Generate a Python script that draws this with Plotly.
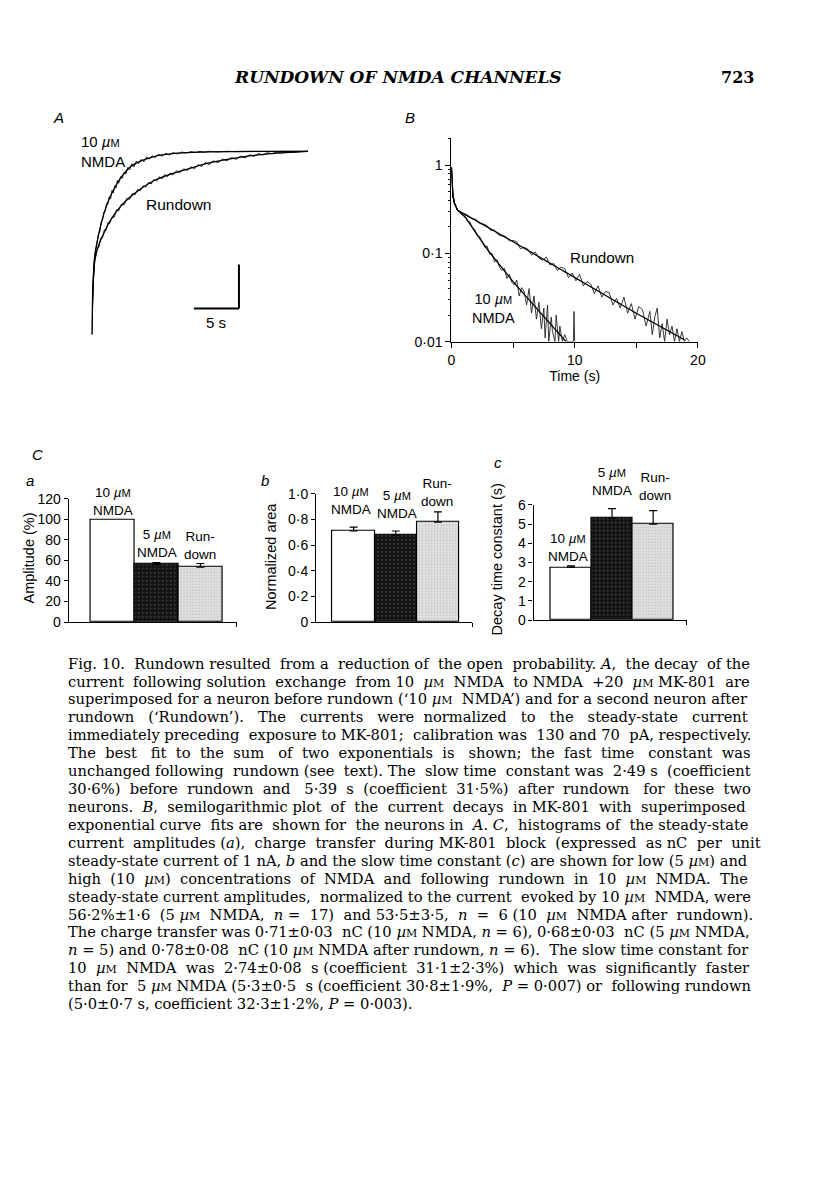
import re
import plotly.graph_objects as go

# page geometry (reference pixel coordinates are mapped onto the figure, which sits inside the 8px body margin)
OFF = 8
FW, FH = 798, 1182
SX, CX = 0.983, 4.6    # empirical correction of the rendered page (x)
SY, CY = 0.985, 9.0    # empirical correction of the rendered page (y)
SANS = "Liberation Sans, Arial, sans-serif"
SERIF = "DejaVu Serif, serif"

# ---------------- Panel A data (normalized current, 0 = steady state, 1 = start) -------------
a_fit_t = [0, 0.056, 0.11, 0.22, 0.33, 0.56, 0.89, 1.33, 1.78, 2.33, 3.11, 4.22, 5.33, 7.0, 9.22, 13.1, 17.6, 24]
a_nmda_fit = [1.0, 0.863, 0.754, 0.645, 0.574, 0.508, 0.426, 0.344, 0.279, 0.219, 0.153, 0.087, 0.055, 0.027, 0.011, 0.003, 0.0, 0.0]

a_run_fit_t = [0, 0.056, 0.11, 0.22, 0.33, 0.56, 0.89, 1.44, 2.0, 3.11, 4.22, 5.33, 7.0, 9.0, 10.9, 12.8, 16.4, 20.1, 24]
a_run_fit = [1.0, 0.863, 0.765, 0.672, 0.601, 0.546, 0.497, 0.437, 0.383, 0.306, 0.251, 0.208, 0.158, 0.120, 0.093, 0.066, 0.033, 0.011, 0.0]

a_nmda_t = [0, 0.06, 0.12, 0.22, 0.33, 0.45, 0.6, 0.75, 0.9, 1.05, 1.2, 1.35, 1.5, 1.65, 1.8, 1.95, 2.1, 2.25,
            2.4, 2.55, 2.7, 2.85, 3.0, 3.2, 3.4, 3.6, 3.8, 4.0, 4.2, 4.45, 4.7, 4.95, 5.2, 5.5, 5.8, 6.1,
            6.4, 6.7, 7.0, 7.4, 7.8, 8.2, 8.6, 9.0, 9.5, 10, 10.5, 11, 11.5, 12, 12.5, 13, 14, 15, 16, 18, 20, 22, 24]
a_nmda_trace = [1.0, 0.86, 0.745, 0.65, 0.565, 0.53, 0.50, 0.452, 0.44, 0.385, 0.378, 0.33, 0.328, 0.285, 0.288, 0.248,
                0.258, 0.212, 0.228, 0.188, 0.2, 0.158, 0.174, 0.138, 0.147, 0.113, 0.124, 0.088, 0.102, 0.068, 0.085,
                0.053, 0.067, 0.044, 0.057, 0.031, 0.043, 0.024, 0.034, 0.016, 0.027, 0.011, 0.02, 0.007, 0.014,
                0.004, 0.009, 0.002, 0.006, 0.0, 0.004, 0.0, 0.003, 0.0, 0.002, 0.0, 0.001, 0.0, 0.0]

a_run_t = [0, 0.06, 0.12, 0.22, 0.33, 0.45, 0.6, 0.8, 1.0, 1.2, 1.4, 1.6, 1.8, 2.0, 2.25, 2.5, 2.75, 3.0, 3.3, 3.6,
           3.9, 4.2, 4.5, 4.8, 5.1, 5.4, 5.7, 6.0, 6.3, 6.6, 6.9, 7.2, 7.5, 7.8, 8.1, 8.4, 8.7, 9.0, 9.4, 9.8,
           10.2, 10.6, 11.0, 11.4, 11.8, 12.2, 12.6, 13.0, 13.5, 14, 14.5, 15, 15.5, 16, 16.5, 17, 17.5, 18,
           18.5, 19, 19.5, 20, 20.5, 21, 21.5, 22, 23, 24]
a_run_trace = [1.0, 0.86, 0.76, 0.675, 0.60, 0.565, 0.535, 0.52, 0.473, 0.472, 0.428, 0.432, 0.388, 0.394, 0.358, 0.36,
               0.318, 0.324, 0.288, 0.292, 0.256, 0.262, 0.23, 0.238, 0.208, 0.215, 0.188, 0.196, 0.169, 0.178, 0.153,
               0.162, 0.139, 0.15, 0.127, 0.139, 0.118, 0.129, 0.106, 0.116, 0.095, 0.105, 0.084, 0.095, 0.073,
               0.083, 0.061, 0.072, 0.052, 0.062, 0.042, 0.052, 0.034, 0.044, 0.026, 0.036, 0.019, 0.027, 0.012,
               0.02, 0.007, 0.014, 0.004, 0.01, 0.002, 0.006, 0.001, 0.0]

# scale bar (5 s)
scale_t0, scale_len_s = 11.33, 5.0
scale_y_low, scale_y_high = 0.858, 0.617

# ---------------- Panel B data (semilog) -------------
b_nmda_fit_t = [0, 0.05, 0.12, 0.25, 0.5, 0.8, 1.2, 2.0, 3.0, 5.0, 7.0, 9.3]
b_nmda_fit = [0.95, 0.6, 0.45, 0.37, 0.31, 0.285, 0.25, 0.17, 0.107, 0.048, 0.023, 0.01]
b_run_fit_t = [0, 0.05, 0.12, 0.25, 0.5, 0.8, 1.8, 5.0, 10.0, 15.0, 18.9]
b_run_fit = [0.95, 0.6, 0.45, 0.37, 0.31, 0.29, 0.245, 0.136, 0.053, 0.021, 0.0105]

b_nmda_t = [0, 0.05, 0.12, 0.25, 0.5, 0.7, 0.9, 1.1, 1.3, 1.5, 1.7, 1.9, 2.1, 2.3, 2.5, 2.7, 2.9, 3.1, 3.3, 3.5,
            3.7, 3.9, 4.1, 4.3, 4.5, 4.7, 4.9, 5.1, 5.3, 5.5, 5.7, 5.9, 6.1, 6.3, 6.5, 6.7, 6.9, 7.1, 7.3,
            7.5, 7.6, 7.8, 7.9, 8.1, 8.2, 8.4, 8.5, 8.7, 8.8, 9.0, 9.2, 9.4, 9.9, 9.95, 10.0]
b_nmda_trace = [0.95, 0.62, 0.46, 0.37, 0.31, 0.292, 0.272, 0.266, 0.232, 0.228, 0.196, 0.186, 0.158, 0.155, 0.138,
                0.118, 0.121, 0.098, 0.1, 0.08, 0.085, 0.07, 0.064, 0.068, 0.052, 0.058, 0.047, 0.044, 0.05,
                0.033, 0.041, 0.037, 0.026, 0.04, 0.021, 0.033, 0.018, 0.028, 0.014, 0.024, 0.011, 0.026, 0.01,
                0.019, 0.013, 0.01, 0.02, 0.01, 0.015, 0.01, 0.012, 0.01, 0.01, 0.022, 0.01]

b_run_t = [0, 0.05, 0.12, 0.25, 0.5, 0.8, 1.1, 1.4, 1.7, 2.0, 2.3, 2.6, 2.9, 3.2, 3.5, 3.8, 4.1, 4.4, 4.7, 5.0,
           5.3, 5.6, 5.9, 6.2, 6.5, 6.8, 7.1, 7.4, 7.7, 8.0, 8.3, 8.6, 8.9, 9.2, 9.5, 9.8, 10.1, 10.4, 10.7,
           11.0, 11.3, 11.6, 11.9, 12.2, 12.5, 12.8, 13.1, 13.4, 13.7, 14.0, 14.3, 14.6, 14.9, 15.2, 15.5,
           15.8, 16.1, 16.3, 16.5, 16.7, 16.9, 17.1, 17.3, 17.5, 17.7, 17.9, 18.1, 18.3, 18.5, 18.7, 18.9, 19.1, 19.3]
b_run_trace = [0.95, 0.63, 0.47, 0.38, 0.31, 0.296, 0.281, 0.268, 0.246, 0.243, 0.218, 0.216, 0.207, 0.182, 0.184,
               0.163, 0.158, 0.157, 0.139, 0.141, 0.135, 0.113, 0.118, 0.112, 0.096, 0.104, 0.089, 0.084, 0.091,
               0.074, 0.077, 0.064, 0.07, 0.067, 0.053, 0.06, 0.049, 0.058, 0.043, 0.048, 0.045, 0.035, 0.043,
               0.032, 0.037, 0.036, 0.026, 0.031, 0.024, 0.032, 0.021, 0.027, 0.018, 0.025, 0.023, 0.015, 0.022,
               0.012, 0.019, 0.024, 0.011, 0.016, 0.01, 0.018, 0.012, 0.015, 0.01, 0.014, 0.01, 0.013, 0.01, 0.011, 0.01]

b_xticks = [0, 5, 10, 15, 20]
b_xticklabels = ["0", "", "10", "", "20"]
b_yticks = [0.01, 0.1, 1]
b_yticklabels = ["0·01", "0·1", "1"]

# ---------------- Panel C data -------------
groups = ["10 µM NMDA", "5 µM NMDA", "Rundown"]
amp_mean = [100, 56.2, 53.5]
amp_err = [0, 1.6, 3.5]
area_mean = [0.71, 0.68, 0.78]
area_err = [0.03, 0.03, 0.08]
tau_mean = [2.74, 5.3, 5.0]
tau_err = [0.08, 0.5, 0.7]

amp_ticks = [0, 20, 40, 60, 80, 100, 120]
area_ticks = [0, 0.2, 0.4, 0.6, 0.8, 1.0]
area_ticklabels = ["0", "0·2", "0·4", "0·6", "0·8", "1·0"]
tau_ticks = [0, 1, 2, 3, 4, 5, 6]

# ---------------- helpers -------------
def dx(px):
    return ((px - CX) / SX - OFF) / FW

def dy(py):
    return 1 - ((py - CY) / SY - OFF) / FH

uMs = "<i>µ</i><span style='font-size:11px'>M</span>"

fig = go.Figure()

LW_FIT = 1.3
LW_TR = 0.9

# Panel A
fig.add_trace(go.Scatter(x=a_nmda_t, y=a_nmda_trace, mode="lines", line=dict(color="#111", width=LW_TR), xaxis="x", yaxis="y", showlegend=False))
fig.add_trace(go.Scatter(x=a_run_t, y=a_run_trace, mode="lines", line=dict(color="#111", width=LW_TR), xaxis="x", yaxis="y", showlegend=False))
fig.add_trace(go.Scatter(x=a_fit_t, y=a_nmda_fit, mode="lines", line=dict(color="black", width=LW_FIT, shape="spline", smoothing=0.6), xaxis="x", yaxis="y", showlegend=False))
fig.add_trace(go.Scatter(x=a_run_fit_t, y=a_run_fit, mode="lines", line=dict(color="black", width=LW_FIT, shape="spline", smoothing=0.6), xaxis="x", yaxis="y", showlegend=False))

# Panel B
fig.add_trace(go.Scatter(x=b_nmda_t, y=b_nmda_trace, mode="lines", line=dict(color="#222", width=LW_TR), xaxis="x2", yaxis="y2", showlegend=False))
fig.add_trace(go.Scatter(x=b_run_t, y=b_run_trace, mode="lines", line=dict(color="#222", width=LW_TR), xaxis="x2", yaxis="y2", showlegend=False))
fig.add_trace(go.Scatter(x=b_nmda_fit_t, y=b_nmda_fit, mode="lines", line=dict(color="black", width=LW_FIT), xaxis="x2", yaxis="y2", showlegend=False))
fig.add_trace(go.Scatter(x=b_run_fit_t, y=b_run_fit, mode="lines", line=dict(color="black", width=LW_FIT), xaxis="x2", yaxis="y2", showlegend=False))

# Panel C bars
fills = [
    dict(color="white", line=dict(color="black", width=1.2)),
    dict(color="#141414", line=dict(color="black", width=1.2),
         pattern=dict(shape=".", bgcolor="#121212", fgcolor="#5a5a5a", size=4, solidity=0.25)),
    dict(color="#dcdcdc", line=dict(color="black", width=1.2),
         pattern=dict(shape=".", bgcolor="#e4e4e4", fgcolor="#9c9c9c", size=3, solidity=0.3)),
]

def add_bars(means, errs, xa, ya):
    for i, (m, e) in enumerate(zip(means, errs)):
        kw = {}
        if e > 0:
            kw["error_y"] = dict(type="data", array=[e], arrayminus=[0], symmetric=False,
                                 color="black", thickness=1.2, width=4)
        fig.add_trace(go.Bar(x=[i], y=[m], width=1.0, marker=fills[i], xaxis=xa, yaxis=ya,
                             showlegend=False, name=groups[i], **kw))

add_bars(amp_mean, amp_err, "x3", "y3")
add_bars(area_mean, area_err, "x4", "y4")
add_bars(tau_mean, tau_err, "x5", "y5")

tickfont = dict(family=SANS, size=14, color="black")

def bar_xaxis(x0, x1, lo, hi, ya):
    return dict(domain=[dx(x0), dx(x1)], range=[lo, hi], showline=True, linecolor="black", linewidth=1.2,
                tickvals=[hi], ticktext=[""], ticks="outside", ticklen=4, tickcolor="black", tickwidth=1.2,
                showgrid=False, zeroline=False, fixedrange=True, anchor=ya)

def bar_yaxis(y0, y1, rng, tv, tt, xa):
    return dict(domain=[dy(y0), dy(y1)], range=rng, showline=True, linecolor="black", linewidth=1.2,
                tickvals=tv, ticktext=tt, ticks="outside", ticklen=4, tickcolor="black", tickwidth=1.2,
                tickfont=tickfont, showgrid=False, zeroline=False, anchor=xa, fixedrange=True)

fig.update_layout(
    width=FW, height=FH, margin=dict(l=0, r=0, t=0, b=0),
    paper_bgcolor="white", plot_bgcolor="rgba(0,0,0,0)",
    bargap=0, barmode="overlay",
    xaxis=dict(domain=[dx(92), dx(308)], range=[0, 24], visible=False),
    yaxis=dict(domain=[dy(338), dy(148)], range=[1.0164, -0.0219], visible=False),
    xaxis2=dict(domain=[dx(451), dx(697)], range=[0, 20], anchor="y2", showline=True, linecolor="black",
                linewidth=1.2, tickvals=b_xticks, ticktext=b_xticklabels, ticks="outside", ticklen=5,
                tickcolor="black", tickwidth=1.2, tickfont=dict(family=SANS, size=14, color="black"),
                showgrid=False, zeroline=False,
                title=dict(text="Time (s)", font=dict(family=SANS, size=14, color="black"), standoff=4)),
    yaxis2=dict(domain=[dy(342), dy(139)], type="log", range=[-2, 0.307], anchor="x2", showline=True,
                linecolor="black", linewidth=1.2, tickvals=b_yticks, ticktext=b_yticklabels, ticks="outside",
                ticklen=5, tickcolor="black", tickwidth=1.2, tickfont=dict(family=SANS, size=14, color="black"),
                showgrid=False, zeroline=False,
                minor=dict(ticks="outside", ticklen=2, tickcolor="black", tickwidth=1, dtick="D1", showgrid=False)),
    xaxis3=bar_xaxis(69, 237, -0.99, 2.83, "y3"),
    yaxis3=bar_yaxis(622, 499, [0, 120], amp_ticks, [str(v) for v in amp_ticks], "x3"),
    xaxis4=bar_xaxis(316, 472, -0.89, 2.82, "y4"),
    yaxis4=bar_yaxis(622, 494, [0, 1.0], area_ticks, area_ticklabels, "x4"),
    xaxis5=bar_xaxis(533, 686, -0.91, 2.82, "y5"),
    yaxis5=bar_yaxis(620, 505, [0, 6], tau_ticks, [str(v) for v in tau_ticks], "x5"),
)

# scale bar in panel A
fig.add_shape(type="line", xref="x", yref="y", x0=scale_t0, x1=scale_t0 + scale_len_s, y0=scale_y_low, y1=scale_y_low,
              line=dict(color="black", width=2))
fig.add_shape(type="line", xref="x", yref="y", x0=scale_t0 + scale_len_s, x1=scale_t0 + scale_len_s,
              y0=scale_y_low, y1=scale_y_high, line=dict(color="black", width=2))

annots = []

def ann(text, px, py, size=14, family=SANS, xanchor="center", yanchor="middle", angle=0, align="center"):
    annots.append(dict(text=text, x=dx(px), y=dy(py), xref="paper", yref="paper", showarrow=False,
                       xanchor=xanchor, yanchor=yanchor, textangle=angle, align=align, borderpad=0,
                       font=dict(family=family, size=size, color="black")))

# header
ann("<i><b>RUNDOWN OF NMDA CHANNELS</b></i>", 398, 78, size=17, family=SERIF)
ann("<b>723</b>", 737, 78, size=16, family=SERIF)

# panel letters
ann("<i>A</i>", 59, 118, size=15)
ann("<i>B</i>", 410, 118, size=15)
ann("<i>C</i>", 38, 455, size=15)
ann("<i>a</i>", 30, 481, size=15)
ann("<i>b</i>", 265, 481, size=15)
ann("<i>c</i>", 497, 463, size=15)

# panel A labels
ann("10 " + uMs + "<br>NMDA", 80, 152, size=15, xanchor="left", align="left")
ann("Rundown", 145, 205, size=15.5, xanchor="left")
ann("5 s", 216, 323, size=15)

# panel B labels
ann("Rundown", 568, 258, size=15.2, xanchor="left")
ann("10 " + uMs + "<br>NMDA", 493, 309, size=14.5)

# panel C bar labels
ann("10 " + uMs + "<br>NMDA", 113, 502, size=13.5)
ann("5 " + uMs + "<br>NMDA", 157, 544, size=13.5)
ann("Run-<br>down", 200, 546, size=13.5)
ann("10 " + uMs + "<br>NMDA", 351, 501, size=13.5)
ann("5 " + uMs + "<br>NMDA", 397, 505, size=13.5)
ann("Run-<br>down", 437, 493, size=13.5)
ann("10 " + uMs + "<br>NMDA", 567, 548, size=13.5)
ann("5 " + uMs + "<br>NMDA", 611, 482, size=13.5)
ann("Run-<br>down", 654, 487, size=13.5)

# y titles for bar panels
ann("Amplitude (%)", 29, 558, size=14.5, angle=-90)
ann("Normalized area", 271, 557, size=14.5, angle=-90)
ann("Decay time constant (s)", 496, 560, size=14.5, angle=-90)

# caption
CAP_SIZE = 14.7
capM = "<i>µ</i><span style='font-size:11px'>M</span>"
caption_lines = [
    "Fig. 10. Rundown resulted from a reduction of the open probability. <i>A</i>, the decay of the",
    f"current following solution exchange from 10 {capM} NMDA to NMDA +20 {capM} MK-801 are",
    f"superimposed for a neuron before rundown (‘10 {capM} NMDA’) and for a second neuron after",
    "rundown (‘Rundown’). The currents were normalized to the steady-state current",
    "immediately preceding exposure to MK-801; calibration was 130 and 70 pA, respectively.",
    "The best fit to the sum of two exponentials is shown; the fast time constant was",
    "unchanged following rundown (see text). The slow time constant was 2·49 s (coefficient",
    "30·6%) before rundown and 5·39 s (coefficient 31·5%) after rundown for these two",
    "neurons. <i>B</i>, semilogarithmic plot of the current decays in MK-801 with superimposed",
    "exponential curve fits are shown for the neurons in <i>A</i>. <i>C</i>, histograms of the steady-state",
    "current amplitudes (<i>a</i>), charge transfer during MK-801 block (expressed as nC per unit",
    f"steady-state current of 1 nA, <i>b</i> and the slow time constant (<i>c</i>) are shown for low (5 {capM}) and",
    f"high (10 {capM}) concentrations of NMDA and following rundown in 10 {capM} NMDA. The",
    f"steady-state current amplitudes, normalized to the current evoked by 10 {capM} NMDA, were",
    f"56·2%±1·6 (5 {capM} NMDA, <i>n</i> = 17) and 53·5±3·5, <i>n</i> = 6 (10 {capM} NMDA after rundown).",
    f"The charge transfer was 0·71±0·03 nC (10 {capM} NMDA, <i>n</i> = 6), 0·68±0·03 nC (5 {capM} NMDA,",
    f"<i>n</i> = 5) and 0·78±0·08 nC (10 {capM} NMDA after rundown, <i>n</i> = 6). The slow time constant for",
    f"10 {capM} NMDA was 2·74±0·08 s (coefficient 31·1±2·3%) which was significantly faster",
    f"than for 5 {capM} NMDA (5·3±0·5 s (coefficient 30·8±1·9%, <i>P</i> = 0·007) or following rundown",
    "(5·0±0·7 s, coefficient 32·3±1·2%, <i>P</i> = 0·003).",
]
# extra width (px) each line needs to reach the justified right margin
caption_pad_px = [33, 42, 6, 81, 18, 89, 27, 64, 40, 29, 40, 2, 63, 13, 50, 9, 11, 49, 18, 0]
SPACE_W = 0.318 * CAP_SIZE


def justify(line, extra):
    n_add = max(0, int(round(extra / SPACE_W)))
    parts = re.split(r"(<[^>]+>)", line)
    gaps = [(pi, ci) for pi, p in enumerate(parts) if not p.startswith("<")
            for ci, ch in enumerate(p) if ch == " "]
    g = len(gaps)
    if g == 0 or n_add == 0:
        return line
    adds = [n_add // g] * g
    rem = n_add % g
    for j in range(rem):
        adds[int((j + 0.5) * g / rem)] += 1
    lookup = {pos: a for pos, a in zip(gaps, adds)}
    out = []
    for pi, p in enumerate(parts):
        if p.startswith("<"):
            out.append(p)
            continue
        buf = []
        for ci, ch in enumerate(p):
            buf.append(ch)
            if ch == " ":
                buf.append("\u00a0" * lookup.get((pi, ci), 0))
        out.append("".join(buf))
    return "".join(out)


y0, step = 663, 17.9
for i, line in enumerate(caption_lines):
    ann(justify(line, caption_pad_px[i]), 67, y0 + i * step, size=CAP_SIZE, family=SERIF,
        xanchor="left", align="left")

fig.update_layout(annotations=annots)
fig.write_html("out.html")
